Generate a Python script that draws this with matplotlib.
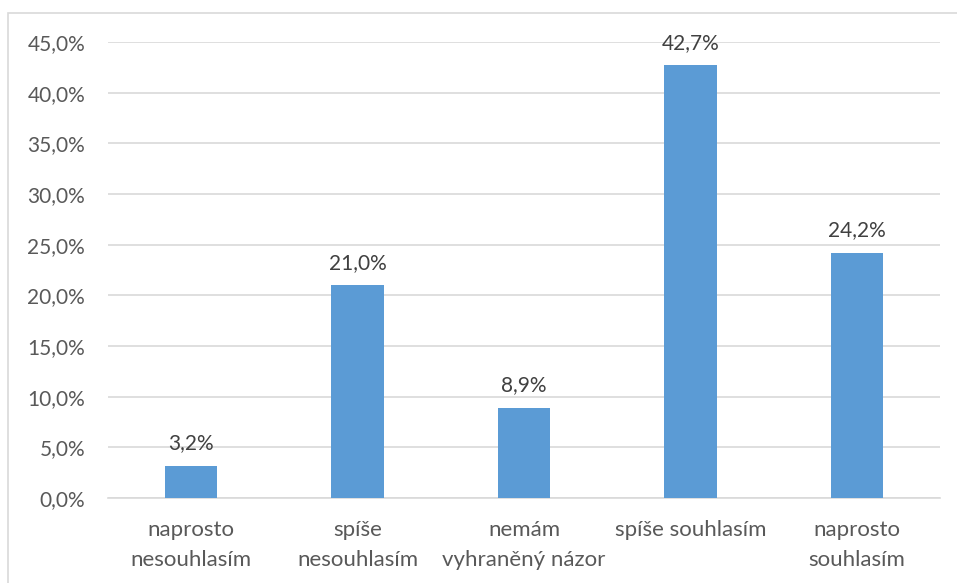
import matplotlib
matplotlib.use("Agg")
import matplotlib.pyplot as plt
from matplotlib.patches import Rectangle

categories = ["naprosto\nnesouhlasím", "spíše\nnesouhlasím", "nemám\nvyhraněný názor",
              "spíše souhlasím", "naprosto\nsouhlasím"]
values = [3.2, 21.0, 8.9, 42.7, 24.2]
yticks = [0, 5, 10, 15, 20, 25, 30, 35, 40, 45]

plt.rcParams['font.family'] = ['Lato', 'DejaVu Sans']

W, H = 957, 583
fig = plt.figure(figsize=(W/100, H/100), dpi=100)
ax = fig.add_axes([108/W, 1-498/H, (940-108)/W, (498-42)/H])

# outer border
fig.patches.append(Rectangle((8/W, -0.05), 1.0, 1-13/H+0.05, transform=fig.transFigure,
                             fill=False, edgecolor='#d9d9d9', lw=1.2))

x = list(range(len(categories)))
bars = ax.bar(x, values, width=0.315, color='#5b9bd5', zorder=3)
ax.set_xlim(-0.5, len(categories)-0.5)
ax.set_ylim(0, 45)
ax.set_yticks(yticks)
ax.set_yticklabels([f"{v:.1f}%".replace('.', ',') for v in yticks], fontsize=15, color='#595959')
ax.set_xticks(x)
ax.set_xticklabels(categories, fontsize=16, color='#595959', linespacing=1.6)
ax.tick_params(axis='both', length=0)
ax.tick_params(axis='y', pad=16.5)
ax.tick_params(axis='x', pad=16)
ax.grid(axis='y', color='#d9d9d9', lw=1.2, zorder=0)
for s in ['top', 'right', 'left']:
    ax.spines[s].set_visible(False)
ax.spines['bottom'].set_color('#d9d9d9')
ax.spines['bottom'].set_linewidth(1.2)

for xi, v in zip(x, values):
    ax.annotate(f"{v:.1f}%".replace('.', ','), (xi, v), xytext=(0, 9), textcoords='offset points',
                ha='center', va='bottom', fontsize=15, color='#404040')

fig.savefig("out.png", dpi=100)
